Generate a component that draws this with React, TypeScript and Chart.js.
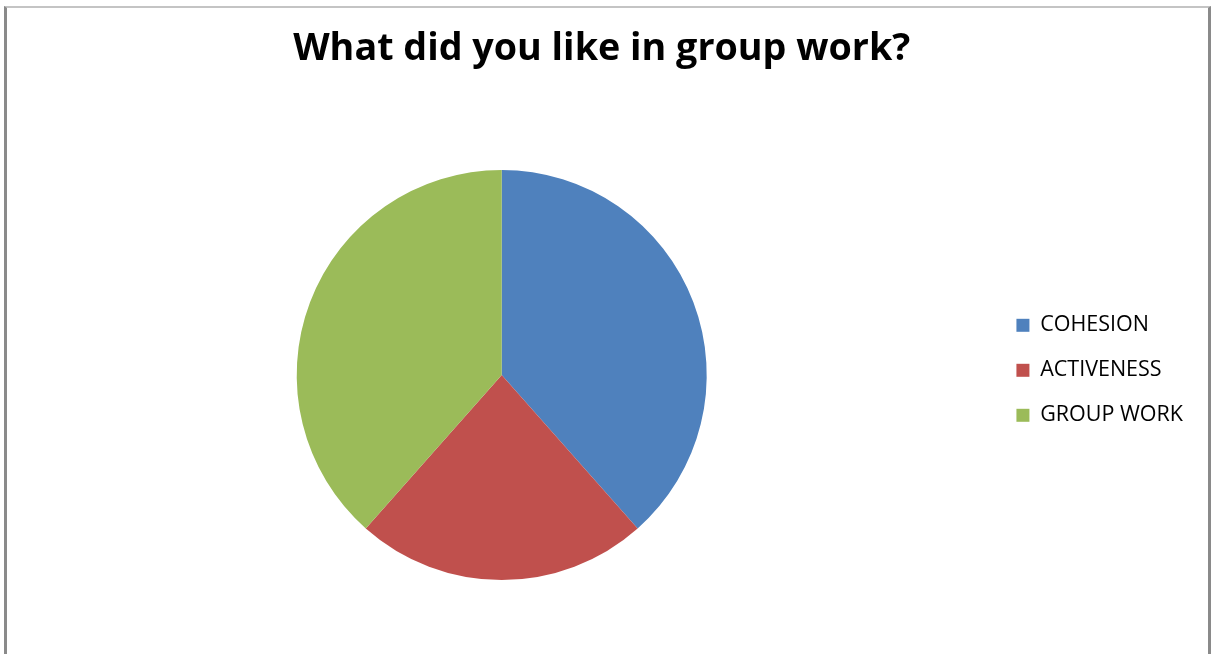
import React, { useEffect, useRef } from "react";
import { Chart, registerables } from "chart.js";

Chart.register(...registerables);

const categories = ["COHESION", "ACTIVENESS", "GROUP WORK"];
const responses = [5, 3, 5];
const sliceColors = ["#4F81BD", "#C0504D", "#9BBB59"];
const chartTitle = "What did you like in group work?";

export default function App() {
  const canvasRef = useRef<HTMLCanvasElement | null>(null);

  useEffect(() => {
    document.body.style.margin = "0";
    const canvas = canvasRef.current;
    if (!canvas) return;
    const chart = new Chart(canvas, {
      type: "pie",
      data: {
        labels: categories,
        datasets: [
          {
            data: responses,
            backgroundColor: sliceColors,
            borderWidth: 0,
            radius: 205,
          },
        ],
      },
      options: {
        responsive: false,
        animation: false,
        layout: { padding: { left: 10.5, right: 19, top: 0, bottom: 4 } },
        plugins: {
          tooltip: { enabled: false },
          title: {
            display: true,
            text: chartTitle,
            color: "#000000",
            font: { family: "'Open Sans', sans-serif", size: 37.7, weight: "bold" },
            padding: { top: 27, bottom: 27.8 },
          },
          legend: {
            position: "right",
            title: {
              display: true,
              text: "",
              font: { size: 10 },
              padding: { top: 78.6, bottom: 0 },
            },
            labels: {
              boxWidth: 13,
              boxHeight: 13,
              padding: 23.5,
              color: "#000000",
              font: { family: "'Open Sans', sans-serif", size: 21.5 },
            },
          },
        },
      },
    });
    return () => chart.destroy();
  }, []);

  return (
    <div
      style={{
        position: "fixed",
        left: 0,
        top: 0,
        width: 1212,
        height: 654,
        overflow: "hidden",
        background: "#ffffff",
      }}
    >
      <canvas ref={canvasRef} width={1212} height={654} style={{ position: "absolute", left: 0, top: 0 }} />
      <div
        style={{
          position: "absolute",
          left: 4,
          top: 6,
          width: 1201,
          height: 700,
          borderLeft: "3px solid #8a8a8a",
          borderRight: "3px solid #8a8a8a",
          borderTop: "2px solid #c4c4c4",
          pointerEvents: "none",
        }}
      />
    </div>
  );
}
